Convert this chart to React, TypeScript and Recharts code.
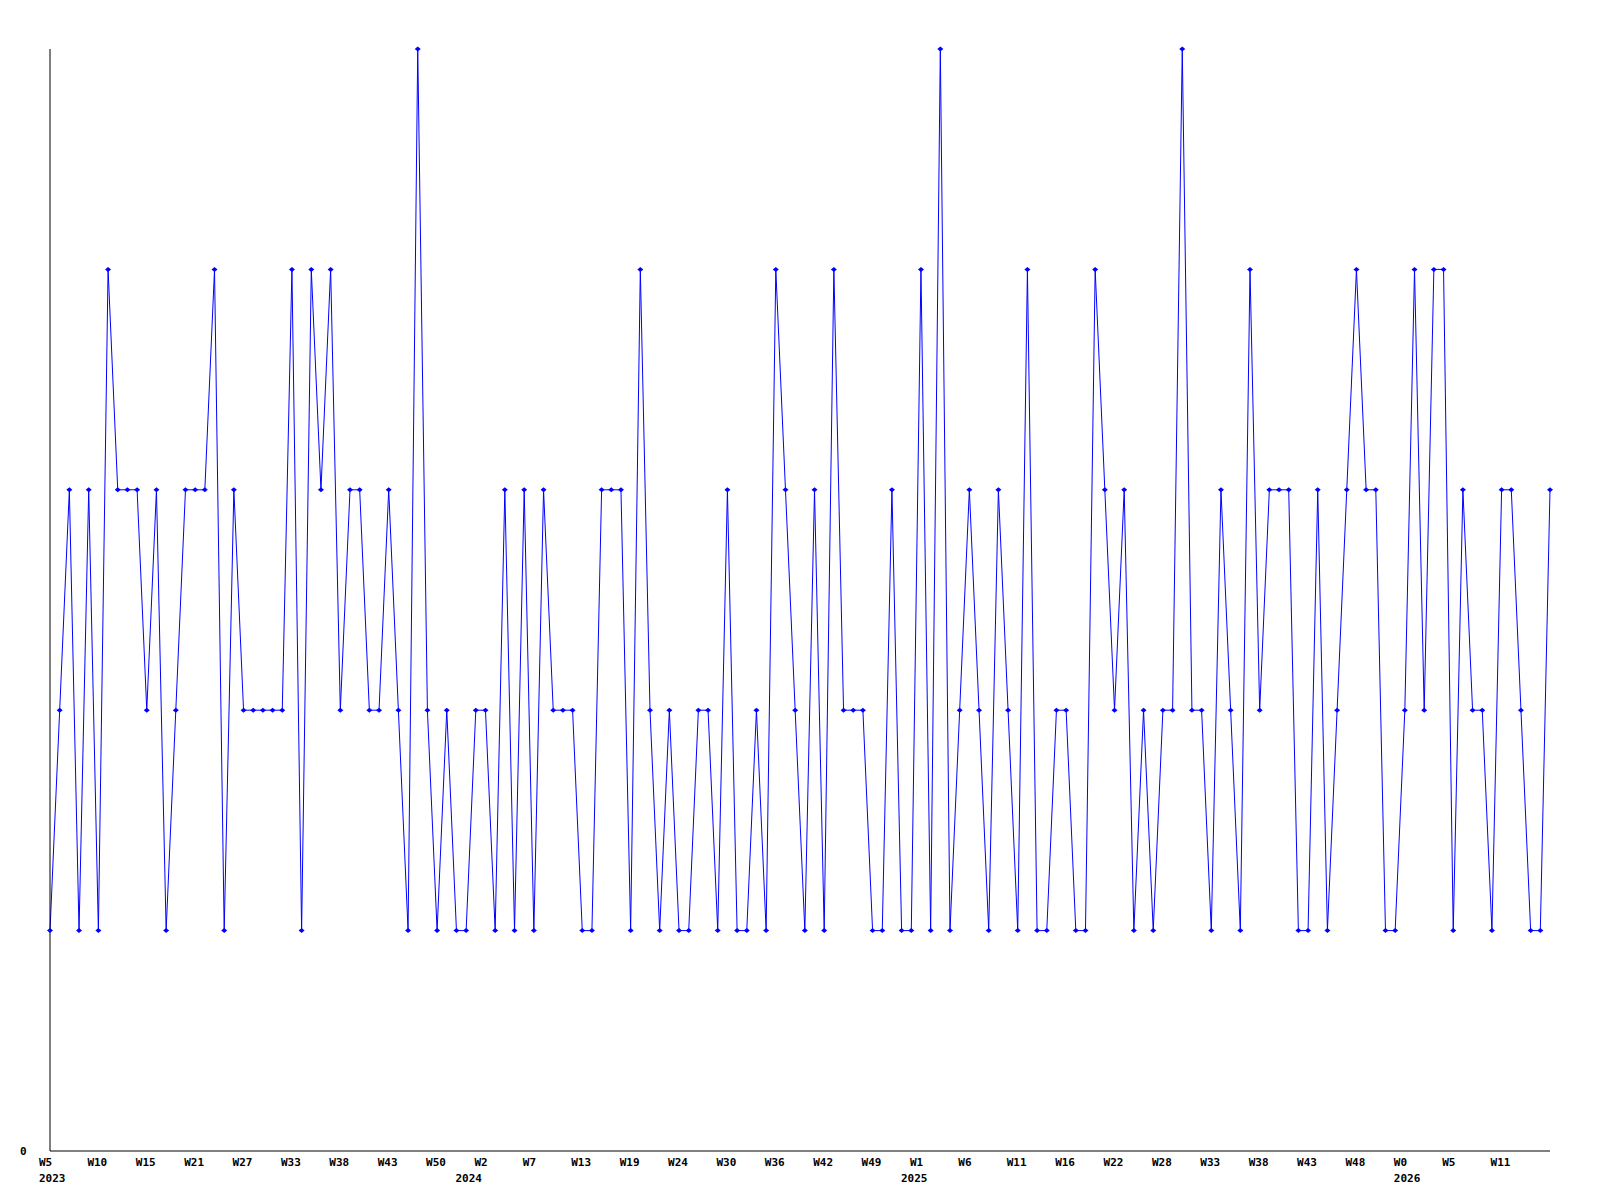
import { LineChart, Line, XAxis, YAxis } from "recharts";

// weekly values, W5 2023 onwards
const values = [
  1, 2, 3, 1, 3, 1, 4, 3, 3, 3, 2, 3, 1, 2, 3, 3, 3, 4, 1, 3,
  2, 2, 2, 2, 2, 4, 1, 4, 3, 4, 2, 3, 3, 2, 2, 3, 2, 1, 5, 2,
  1, 2, 1, 1, 2, 2, 1, 3, 1, 3, 1, 3, 2, 2, 2, 1, 1, 3, 3, 3,
  1, 4, 2, 1, 2, 1, 1, 2, 2, 1, 3, 1, 1, 2, 1, 4, 3, 2, 1, 3,
  1, 4, 2, 2, 2, 1, 1, 3, 1, 1, 4, 1, 5, 1, 2, 3, 2, 1, 3, 2,
  1, 4, 1, 1, 2, 2, 1, 1, 4, 3, 2, 3, 1, 2, 1, 2, 2, 5, 2, 2,
  1, 3, 2, 1, 4, 2, 3, 3, 3, 1, 1, 3, 1, 2, 3, 4, 3, 3, 1, 1,
  2, 4, 2, 4, 4, 1, 3, 2, 2, 1, 3, 3, 2, 1, 1, 3,
];

const tickIndex = [
  0, 5, 10, 15, 20, 25, 30, 35, 40, 45, 50, 55, 60, 65, 70, 75,
  80, 85, 90, 95, 100, 105, 110, 115, 120, 125, 130, 135, 140, 145, 150,
];
const weekLabels = [
  "W5", "W10", "W15", "W21", "W27", "W33", "W38", "W43", "W50", "W2", "W7",
  "W13", "W19", "W24", "W30", "W36", "W42", "W49", "W1", "W6", "W11", "W16",
  "W22", "W28", "W33", "W38", "W43", "W48", "W0", "W5", "W11",
];
const yearTicks = [0, 45, 90, 140];
const yearLabels = ["2023", "2024", "2025", "2026"];
const yearShift = [0, -19, -9, 0];

const data = values.map((v, i) => ({ i, v }));

const FONT = "'DejaVu Sans Mono', monospace";

function WeekTick(props: any) {
  const { x, y, payload } = props;
  const k = tickIndex.indexOf(payload.value);
  const yk = yearTicks.indexOf(payload.value);
  return (
    <g>
      <text x={x - 11} y={y + 15} textAnchor="start" fontFamily={FONT} fontSize={11} fontWeight="bold" fill="#000">
        {weekLabels[k]}
      </text>
      {yk >= 0 && (
        <text x={x - 11 + yearShift[yk]} y={y + 31} textAnchor="start" fontFamily={FONT} fontSize={11} fontWeight="bold" fill="#000">
          {yearLabels[yk]}
        </text>
      )}
    </g>
  );
}

function ZeroTick(props: any) {
  const { y, payload } = props;
  return (
    <text x={20} y={y + 4} textAnchor="start" fontFamily={FONT} fontSize={11} fontWeight="bold" fill="#000">
      {payload.value}
    </text>
  );
}

function Marker(props: any) {
  const { cx, cy, index } = props;
  return (
    <path
      key={"m" + index}
      d={`M${cx - 3},${cy} L${cx},${cy - 2.5} L${cx + 3},${cy} L${cx},${cy + 2.5} Z`}
      fill="#0000ff"
      stroke="none"
    />
  );
}

export default function App() {
  return (
    <div style={{ position: "absolute", left: 0, top: 0, width: 1600, height: 1200, background: "#fff" }}>
      <LineChart width={1600} height={1200} data={data} margin={{ top: 49, right: 50, bottom: 0, left: 0 }}>
        <XAxis
          dataKey="i"
          type="number"
          domain={[0, 155]}
          ticks={tickIndex}
          interval={0}
          tickLine={false}
          tickSize={0}
          tickMargin={0}
          height={49}
          axisLine={{ stroke: "#000", strokeWidth: 1 }}
          tick={<WeekTick />}
        />
        <YAxis
          type="number"
          domain={[0, 5]}
          ticks={[0]}
          width={50}
          tickLine={false}
          tickSize={0}
          axisLine={{ stroke: "#000", strokeWidth: 1 }}
          tick={<ZeroTick />}
        />
        <Line
          type="linear"
          dataKey="v"
          stroke="#0000ff"
          strokeWidth={1}
          dot={Marker}
          activeDot={false}
          isAnimationActive={false}
        />
      </LineChart>
    </div>
  );
}
